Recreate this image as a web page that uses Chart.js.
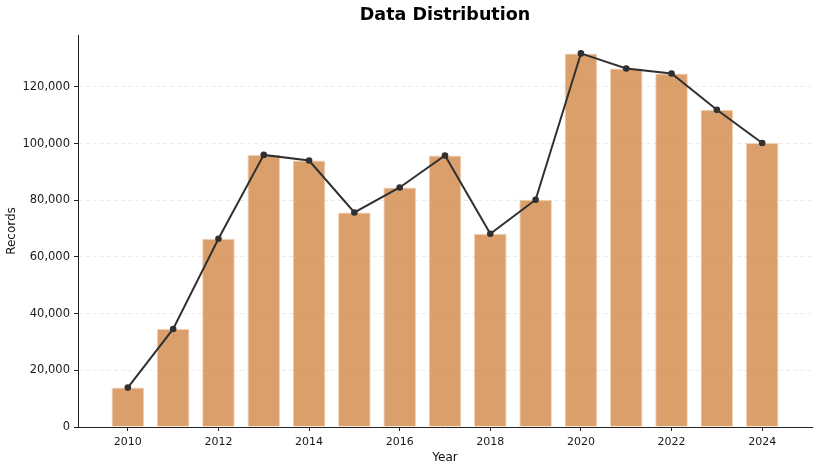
<!DOCTYPE html>
<html>
<head>
<meta charset="utf-8">
<script src="https://cdn.jsdelivr.net/npm/chart.js"></script>
<style>
html,body{margin:0;padding:0;background:#fff}
</style>
</head>
<body>
<canvas id="chart" width="820" height="468"></canvas>
<script>
/* =========================
   DATA
========================= */
const years = [2010,2011,2012,2013,2014,2015,2016,2017,2018,2019,2020,2021,2022,2023,2024];
const records = [13900,34600,66400,96000,94000,75700,84500,95800,68200,80200,131800,126500,124700,111900,100200];
const yTicks = [0,20000,40000,60000,80000,100000,120000];
const xTicks = [2010,2012,2014,2016,2018,2020,2022,2024];

const points = years.map((y,i)=>({x:y,y:records[i]}));
const FONT = "'DejaVu Sans', sans-serif";

/* =========================
   CHART
========================= */
new Chart(document.getElementById("chart"),{
  type:"bar",
  data:{
    datasets:[
      {
        type:"line",
        data:points,
        borderColor:"#303030",
        backgroundColor:"#303030",
        borderWidth:2,
        pointRadius:3.3,
        pointBorderWidth:0,
        pointHoverRadius:3.3,
        tension:0,
        order:0
      },
      {
        type:"bar",
        data:points,
        backgroundColor:"rgba(214,146,88,0.88)",
        borderColor:"rgba(240,205,175,0.9)",
        borderWidth:1,
        barPercentage:0.72,
        categoryPercentage:1,
        order:1
      }
    ]
  },
  options:{
    responsive:false,
    animation:false,
    devicePixelRatio:1,
    layout:{padding:{left:0,right:8,top:0,bottom:0}},
    plugins:{
      legend:{display:false},
      tooltip:{enabled:false},
      title:{
        display:true,
        text:"Data Distribution",
        fullSize:false,
        color:"#000",
        font:{family:FONT,size:17.5,weight:"bold"},
        padding:{top:5,bottom:9}
      }
    },
    scales:{
      x:{
        type:"linear",
        min:2008.9,
        max:2025.1,
        offset:false,
        afterBuildTicks:s=>{s.ticks=xTicks.map(v=>({value:v}));},
        afterFit:s=>{s.height=41;},
        ticks:{color:"#1a1a1a",font:{family:FONT,size:11},padding:5,maxRotation:0,
          callback:v=>String(v)},
        grid:{drawOnChartArea:false,offset:false,tickLength:4,tickColor:"#222",tickWidth:1},
        border:{color:"#222",width:1},
        title:{display:true,text:"Year",color:"#111",font:{family:FONT,size:12},padding:{top:0,bottom:3}}
      },
      y:{
        min:0,
        max:138300,
        afterBuildTicks:s=>{s.ticks=yTicks.map(v=>({value:v}));},
        afterFit:s=>{s.width=78;},
        ticks:{color:"#1a1a1a",font:{family:FONT,size:11.5},padding:4,
          callback:v=>v.toLocaleString("en-US")},
        grid:{color:"rgba(0,0,0,0.08)",tickColor:"#222",tickLength:4,tickWidth:1,lineWidth:1},
        border:{color:"#222",width:1,dash:[4,3]},
        title:{display:true,text:"Records",color:"#111",font:{family:FONT,size:12},padding:{top:5,bottom:4}}
      }
    }
  }
});
</script>
</body>
</html>
